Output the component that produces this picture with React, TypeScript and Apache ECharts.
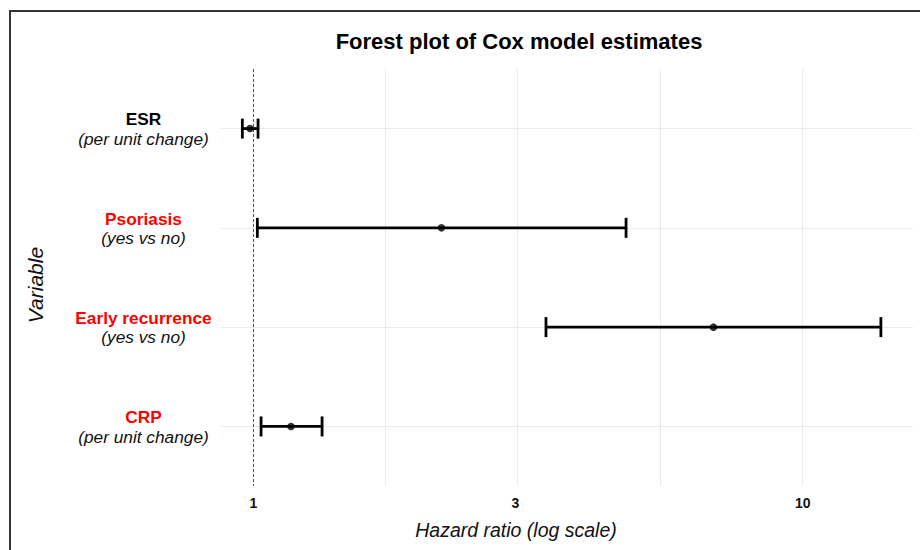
import React, { useEffect, useRef } from "react";
import * as echarts from "echarts";

const categories = ["ESR", "Psoriasis", "Early recurrence", "CRP"];
const subtitles = ["(per unit change)", "(yes vs no)", "(yes vs no)", "(per unit change)"];
const significant = [false, true, true, true];
const hazardRatio = [0.986, 2.2, 6.88, 1.171];
const ciLower = [0.955, 1.017, 3.41, 1.033];
const ciUpper = [1.02, 4.77, 13.88, 1.334];
const tickValues = [1, 3, 10];
const minorGridValues = [Math.sqrt(3), Math.sqrt(30)];
const xMinHR = 0.8733;
const xMaxHR = 15.88;

export default function App() {
  const ref = useRef<HTMLDivElement>(null);
  useEffect(() => {
    if (!ref.current) return;
    const chart = echarts.init(ref.current, null, { renderer: "svg" });
    const lg = (v: number) => Math.log10(v);
    const gridColor = "#ebebeb";
    const font = "'Liberation Sans', Arial, sans-serif";

    const gridLines: any[] = [];
    [...tickValues, ...minorGridValues].forEach((v) =>
      gridLines.push({ xAxis: lg(v), lineStyle: { color: gridColor, width: 1, type: "solid" } })
    );
    categories.forEach((_, i) =>
      gridLines.push({ yAxis: i + 1, lineStyle: { color: gridColor, width: 1, type: "solid" } })
    );
    gridLines.push({ xAxis: 0, lineStyle: { color: "#555", width: 1, type: [3, 2] } });

    chart.setOption({
      animation: false,
      backgroundColor: "#fff",
      textStyle: { fontFamily: font },
      grid: { left: 221, right: 7, top: 69, bottom: 64 },
      xAxis: {
        type: "value",
        min: lg(xMinHR),
        max: lg(xMaxHR),
        axisLine: { show: false },
        axisTick: { show: false },
        splitLine: { show: false },
        axisLabel: {
          customValues: tickValues.map(lg),
          formatter: (v: number) => String(Math.round(Math.pow(10, v))),
          fontWeight: "bold",
          fontSize: 14,
          color: "#111",
          margin: 10,
          fontFamily: font,
        },
      },
      yAxis: {
        type: "value",
        min: 0.4,
        max: 4.6,
        inverse: true,
        axisLine: { show: false },
        axisTick: { show: false },
        splitLine: { show: false },
        axisLabel: {
          customValues: categories.map((_, i) => i + 1),
          margin: 77.5,
          align: "center",
          padding: [1, 0, 0, 0],
          formatter: (v: number) => {
            const i = Math.round(v) - 1;
            const key = significant[i] ? "r" : "b";
            return `{${key}|${categories[i]}}\n{s|${subtitles[i]}}`;
          },
          rich: {
            b: { fontWeight: "bold", fontSize: 17.3, color: "#000", align: "center", lineHeight: 19.5, fontFamily: font },
            r: { fontWeight: "bold", fontSize: 17.3, color: "#ff0000", align: "center", lineHeight: 19.5, fontFamily: font },
            s: { fontStyle: "italic", fontSize: 17.3, color: "#111", align: "center", lineHeight: 19.5, fontFamily: font },
          },
        },
      },
      graphic: [
        {
          type: "rect",
          shape: { x: 10, y: 11, width: 1000, height: 1000 },
          style: { fill: "none", stroke: "#333", lineWidth: 2 },
          silent: true,
        },
        {
          type: "text",
          x: 519,
          y: 41,
          style: {
            text: "Forest plot of Cox model estimates",
            font: `bold 22px ${font}`,
            fill: "#000",
            align: "center",
            verticalAlign: "middle",
          },
        },
        {
          type: "text",
          x: 516,
          y: 530,
          style: {
            text: "Hazard ratio (log scale)",
            font: `italic 19.5px ${font}`,
            fill: "#111",
            align: "center",
            verticalAlign: "middle",
          },
        },
        {
          type: "text",
          x: 35,
          y: 285,
          rotation: Math.PI / 2,
          style: {
            text: "Variable",
            font: `italic 21px ${font}`,
            fill: "#111",
            align: "center",
            verticalAlign: "middle",
          },
        },
      ],
      series: [
        {
          type: "line",
          data: [],
          z: 1,
          silent: true,
          markLine: {
            z: 1,
            silent: true,
            symbol: "none",
            label: { show: false },
            data: gridLines,
            animation: false,
          },
        },
        {
          type: "custom",
          z: 10,
          data: categories.map((_, i) => [lg(ciLower[i]), lg(ciUpper[i]), i + 1]),
          encode: { x: [0, 1], y: 2 },
          renderItem: (params: any, api: any) => {
            const lo = api.coord([api.value(0), api.value(2)]);
            const hi = api.coord([api.value(1), api.value(2)]);
            const h = 10;
            const st = { stroke: "#000", lineWidth: 2.8 };
            return {
              type: "group",
              children: [
                { type: "line", shape: { x1: lo[0], y1: lo[1], x2: hi[0], y2: hi[1] }, style: st },
                { type: "line", shape: { x1: lo[0], y1: lo[1] - h, x2: lo[0], y2: lo[1] + h }, style: st },
                { type: "line", shape: { x1: hi[0], y1: hi[1] - h, x2: hi[0], y2: hi[1] + h }, style: st },
              ],
            };
          },
        },
        {
          type: "scatter",
          z: 11,
          symbol: "circle",
          symbolSize: 7.5,
          itemStyle: { color: "#000" },
          data: categories.map((_, i) => [lg(hazardRatio[i]), i + 1]),
        },
      ],
    });
    return () => chart.dispose();
  }, []);
  return (
    <div
      ref={ref}
      style={{ position: "fixed", left: 0, top: 0, width: 920, height: 550 }}
    />
  );
}
